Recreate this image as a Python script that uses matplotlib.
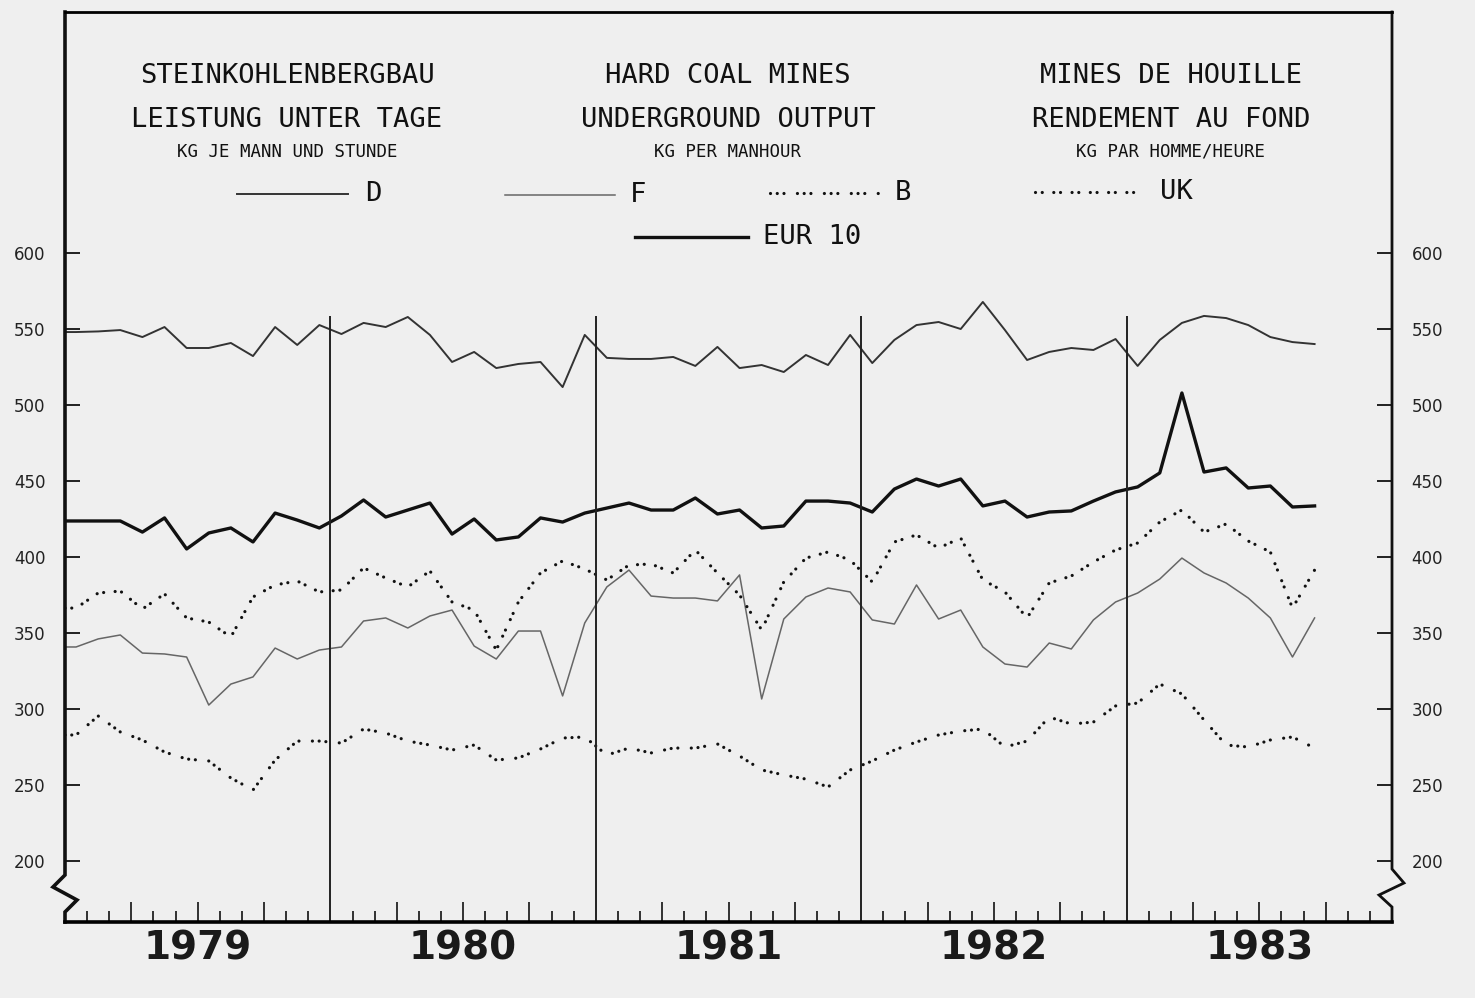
"""
Hard coal mines - underground output, kg per manhour, 1979-1983 (monthly).
"""

import numpy as np
import matplotlib.pyplot as plt
from matplotlib.lines import Line2D
from matplotlib.transforms import blended_transform_factory

# ---- data (kg per manhour, Jan 1979 .. Sep 1983) ----
years = ["1979", "1980", "1981", "1982", "1983"]
y_ticks = [200, 250, 300, 350, 400, 450, 500, 550, 600]

D = [548.0, 548.4, 549.3, 544.7, 551.3, 537.5, 537.5, 540.8, 532.2, 551.3, 539.5, 552.6,
     546.7, 554.0, 551.3, 557.9, 546.1, 528.3, 534.9, 524.3, 527.0, 528.3, 511.8, 546.1,
     531.0, 530.3, 530.3, 531.6, 525.7, 538.2, 524.3, 526.3, 521.7, 532.9, 526.3, 546.1,
     527.6, 542.8, 552.6, 554.6, 550.0, 567.8, 549.3, 529.6, 534.9, 537.5, 536.2, 543.4,
     525.7, 542.8, 554.0, 558.6, 557.2, 552.6, 544.7, 541.4, 540.1]

EUR10 = [423.7, 423.7, 423.7, 416.4, 425.7, 405.3, 415.8, 419.1, 409.9, 428.9, 424.3, 419.1,
         427.0, 437.5, 426.3, 430.9, 435.5, 415.1, 425.0, 411.2, 413.2, 425.7, 423.0, 428.9,
         432.2, 435.5, 430.9, 430.9, 438.8, 428.3, 430.9, 419.1, 420.4, 436.8, 436.8, 435.5,
         429.6, 444.7, 451.3, 446.7, 451.3, 433.6, 436.8, 426.3, 429.6, 430.3, 436.8, 442.8,
         446.1, 455.3, 507.9, 455.9, 458.6, 445.4, 446.7, 432.9, 433.6]

F = [340.8, 346.1, 348.7, 336.8, 336.2, 334.2, 302.6, 316.4, 321.1, 340.1, 332.9, 338.8,
     340.8, 357.9, 359.9, 353.3, 361.2, 365.1, 341.4, 332.9, 351.3, 351.3, 308.6, 356.6,
     380.3, 391.4, 374.3, 373.0, 373.0, 371.1, 388.2, 306.6, 359.2, 373.7, 379.6, 377.0,
     358.6, 355.9, 381.6, 359.2, 365.1, 340.8, 329.6, 327.6, 343.4, 339.5, 358.6, 370.4,
     376.3, 385.5, 399.3, 389.5, 382.9, 373.0, 359.9, 334.2, 359.9]

UK = [366.4, 376.3, 377.6, 365.8, 375.7, 359.9, 357.2, 347.4, 373.7, 381.6, 384.2, 377.0,
      378.3, 392.8, 386.2, 380.3, 390.8, 370.4, 365.1, 338.8, 370.4, 389.5, 397.4, 392.1,
      384.9, 394.7, 395.4, 389.5, 404.6, 389.5, 375.0, 352.0, 383.6, 399.3, 403.3, 398.0,
      383.6, 409.9, 414.5, 405.9, 412.5, 384.9, 377.0, 359.9, 382.9, 387.5, 396.7, 404.6,
      409.2, 423.0, 430.9, 416.4, 421.7, 410.5, 403.3, 366.4, 391.4]

B = [282.9, 295.4, 284.9, 279.6, 271.7, 267.1, 265.8, 254.6, 246.7, 266.4, 278.9, 278.9,
     277.6, 286.8, 284.2, 278.9, 276.3, 273.0, 276.3, 266.4, 267.8, 273.7, 280.9, 281.6,
     269.7, 274.3, 271.1, 274.3, 274.3, 277.0, 269.1, 259.9, 256.6, 253.9, 248.7, 259.9,
     265.8, 273.0, 278.3, 282.9, 285.5, 286.8, 275.0, 278.9, 294.7, 290.1, 291.4, 302.0,
     303.9, 316.4, 309.9, 292.8, 276.3, 275.0, 279.6, 281.6, 274.3]

# ---- styles ----
BG = "#efefef"
INK = "#111111"
MONO = "DejaVu Sans Mono"
B_DASH = (0, (0.01, 2.1, 0.01, 2.1, 0.01, 4.2))
UK_DASH = (0, (0.01, 2.1, 0.01, 3.6))

series = [
    ("D", D, dict(color="#333333", lw=1.4)),
    ("F", F, dict(color="#666666", lw=1.1)),
    ("B", B, dict(color=INK, lw=2.3, linestyle=B_DASH, dash_capstyle="round")),
    ("UK", UK, dict(color=INK, lw=2.3, linestyle=UK_DASH, dash_capstyle="round")),
    ("EUR 10", EUR10, dict(color=INK, lw=2.4)),
]

W, H = 1475, 998


def fx(px):
    return px / W


def fy(py):
    return 1 - py / H


def main() -> None:
    fig = plt.figure(figsize=(W / 100, H / 100), dpi=100, facecolor=BG)
    ax = fig.add_axes([fx(65), fy(922), 1327 / W, 910 / H], facecolor=BG)

    n_years = len(years)
    ax.set_xlim(0, 12 * n_years)
    ax.set_ylim(200 - 61 / 1.52, 200 + 849 / 1.52)

    for name, values, style in series:
        x = np.arange(len(values)) + 0.5
        # the plotter starts every curve at the left frame
        ax.plot(np.r_[0, x], np.r_[values[0], values], **style)

    # year separators
    ax.vlines(np.arange(12, 12 * n_years, 12), ax.get_ylim()[0], 558.5,
              color="#222222", lw=1.4)

    # frame: top and bottom spines, broken side spines
    for side in ("left", "right"):
        ax.spines[side].set_visible(False)
    ax.spines["top"].set_linewidth(2.0)
    ax.spines["bottom"].set_linewidth(2.6)
    ax_w, ax_h = 1327.0, 910.0

    def frame_line(px_pts, lw):
        xs = [p[0] / ax_w for p in px_pts]
        ys = [(922 - p[1]) / ax_h for p in px_pts]
        ax.plot(xs, ys, color=INK, lw=lw, transform=ax.transAxes,
                clip_on=False, solid_joinstyle="miter")

    frame_line([(0, 12), (0, 875), (-12, 887), (12, 900), (0, 912), (0, 922)], 2.6)
    frame_line([(1327, 12), (1327, 869), (1339, 883), (1314, 895),
                (1327, 907), (1327, 922)], 2.0)

    # y ticks on both sides, pointing inwards
    ax.set_yticks(y_ticks)
    ax.tick_params(axis="y", which="major", direction="in", length=11,
                   width=1.3, color=INK, left=True, right=True,
                   labelleft=True, labelright=True, labelsize=12, pad=14,
                   labelcolor="#222222")

    # x ticks: months (short) and quarters (long)
    months = np.arange(1, 12 * n_years)
    quarters = [m for m in months if m % 3 == 0 and m % 12 != 0]
    others = [m for m in months if m % 3 != 0]
    ax.set_xticks(quarters)
    ax.set_xticks(others, minor=True)
    ax.tick_params(axis="x", which="major", direction="in", length=14.5,
                   width=1.2, color=INK, labelbottom=False)
    ax.tick_params(axis="x", which="minor", direction="in", length=8,
                   width=1.2, color=INK)

    trans = blended_transform_factory(ax.transData, ax.transAxes)
    for i, year in enumerate(years):
        ax.text(12 * i + 6, -26 / ax_h, year, transform=trans, ha="center",
                va="center", fontsize=28, fontweight="bold",
                family="DejaVu Sans", color="#1a1a1a")

    # headings in three languages
    headings = [
        (287, ["STEINKOHLENBERGBAU", "LEISTUNG UNTER TAGE"], "KG JE MANN UND STUNDE"),
        (728, ["HARD COAL MINES", "UNDERGROUND OUTPUT"], "KG PER MANHOUR"),
        (1171, ["MINES DE HOUILLE", "RENDEMENT AU FOND"], "KG PAR HOMME/HEURE"),
    ]
    for cx, lines, unit in headings:
        fig.text(fx(cx), fy(76), lines[0], ha="center", va="center",
                 family=MONO, fontsize=19.5, color=INK)
        fig.text(fx(cx), fy(120), lines[1], ha="center", va="center",
                 family=MONO, fontsize=19.5, color=INK)
        fig.text(fx(cx), fy(152), unit, ha="center", va="center",
                 family=MONO, fontsize=12.5, color=INK)

    # hand-made legend
    legend_pos = {
        "D": (237, 348, 194, 365),
        "F": (505, 615, 195, 630),
        "B": (770, 880, 193, 895),
        "UK": (1035, 1137, 192, 1160),
        "EUR 10": (635, 748, 237, 763),
    }
    for name, values, style in series:
        x0, x1, y, tx = legend_pos[name]
        fig.add_artist(Line2D([fx(x0), fx(x1)], [fy(y), fy(y)], **style))
        fig.text(fx(tx), fy(y), name, ha="left", va="center",
                 family=MONO, fontsize=19.5, color=INK)

    fig.savefig("out.png", dpi=100, facecolor=BG)


if __name__ == "__main__":
    main()
